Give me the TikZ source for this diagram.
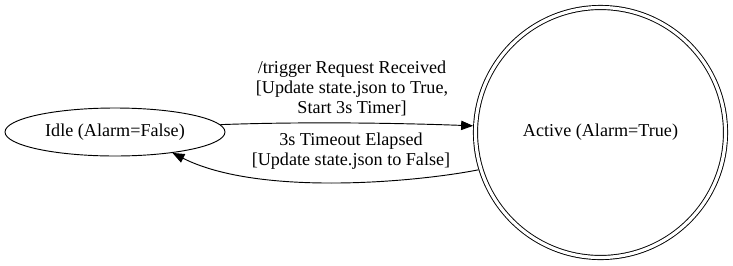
\documentclass[tikz,border=0pt]{standalone}
\usepackage{fontspec}
\setmainfont{Liberation Serif}
\usetikzlibrary{arrows.meta,shapes.geometric}

\tikzset{
  state/.style={draw, line width=0.7pt, font=\fontsize{13.6}{15}\selectfont, align=center, inner sep=0pt},
  idlestate/.style={state, ellipse, minimum width=165pt, minimum height=36pt},
  accept/.style={state, circle, double, double distance=2.4pt, outer sep=1.9pt, minimum size=187.5pt},
  trans/.style={line width=0.7pt, -{Triangle[length=9pt, width=7pt]}},
  translabel/.style={font=\fontsize{13.6}{15}\selectfont, align=center, inner sep=0pt}
}

\begin{document}
\begin{tikzpicture}[x=0.75pt, y=-0.75pt]
			%%%%% START %%%%%
			\useasboundingbox (0,0) rectangle (733,265);
			
			% states
			\node[idlestate] (idle) at (115,132) {Idle (Alarm=False)};
			\node[accept] (active) at (600.5,132.5) {Active (Alarm=True)};
			
			% transitions
			\draw[trans] (idle.4) .. controls +(80,-3) and +(-80,-3) .. (active.177);
			\draw[trans] (active.197) .. controls +(-60,12) and +(87,44) .. (idle.-20);
			
			\node[translabel] (trigger) at (352,88) {/trigger Request Received\\{[}Update state.json to True,\\Start 3s Timer{]}};
			\node[translabel] (timeout) at (351,151) {3s Timeout Elapsed\\{[}Update state.json to False{]}};
			
			%%%%% END %%%%%
		\end{tikzpicture}
\end{document}
